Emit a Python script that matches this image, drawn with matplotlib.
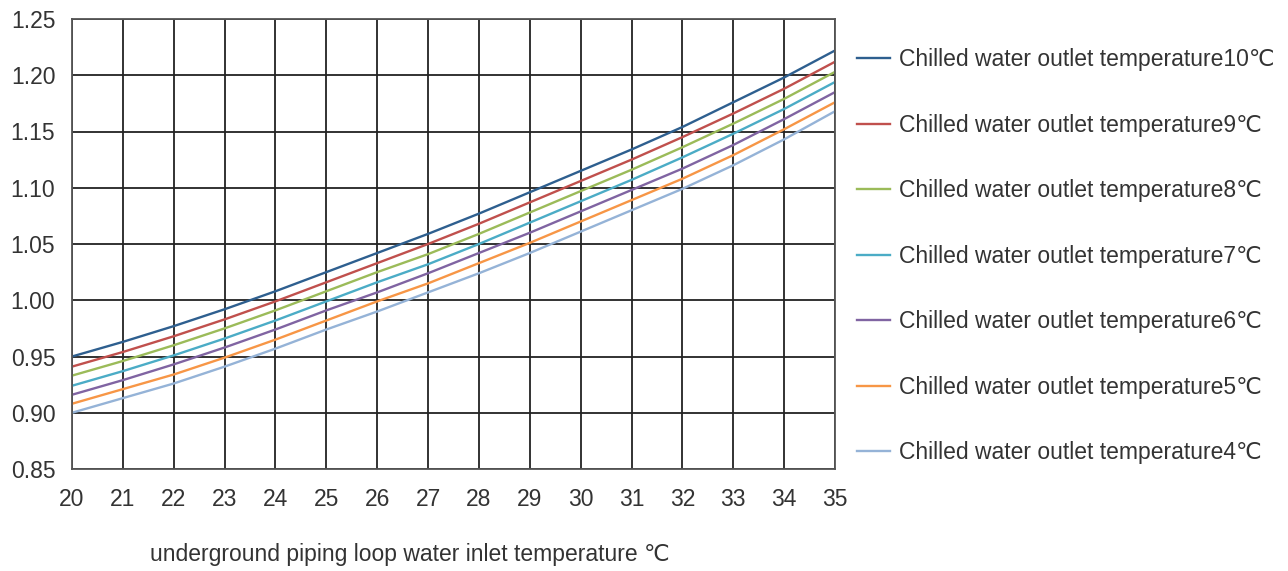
import numpy as np
import matplotlib
matplotlib.use("Agg")
import matplotlib.pyplot as plt

plt.rcParams['font.family'] = ['Liberation Sans', 'DejaVu Sans']

inlet_temp = list(range(20, 36))

outlet_labels = ["10", "9", "8", "7", "6", "5", "4"]
colors = ["#2e5f8f", "#c0504d", "#9bbb59", "#4bacc6", "#8064a2", "#f79646", "#95b3d7"]

t10 = [0.950, 0.963, 0.977, 0.992, 1.008, 1.025, 1.042, 1.059, 1.077, 1.096, 1.115, 1.134, 1.154, 1.176, 1.198, 1.222]
t9 = [0.941, 0.954, 0.968, 0.983, 0.999, 1.016, 1.033, 1.050, 1.068, 1.087, 1.106, 1.125, 1.145, 1.166, 1.188, 1.212]
t8 = [0.933, 0.946, 0.960, 0.975, 0.991, 1.008, 1.025, 1.041, 1.059, 1.078, 1.097, 1.116, 1.136, 1.157, 1.179, 1.203]
t7 = [0.924, 0.937, 0.951, 0.966, 0.982, 0.999, 1.016, 1.032, 1.050, 1.069, 1.088, 1.107, 1.127, 1.148, 1.170, 1.194]
t6 = [0.916, 0.929, 0.943, 0.958, 0.974, 0.991, 1.007, 1.024, 1.042, 1.060, 1.079, 1.098, 1.117, 1.138, 1.161, 1.185]
t5 = [0.908, 0.921, 0.934, 0.949, 0.965, 0.982, 0.999, 1.015, 1.033, 1.051, 1.070, 1.089, 1.108, 1.129, 1.152, 1.176]
t4 = [0.900, 0.913, 0.926, 0.941, 0.957, 0.974, 0.990, 1.007, 1.024, 1.042, 1.061, 1.080, 1.099, 1.120, 1.143, 1.168]
series = [t10, t9, t8, t7, t6, t5, t4]

yticks = [0.85, 0.90, 0.95, 1.00, 1.05, 1.10, 1.15, 1.20, 1.25]

fs = 16.5

fig = plt.figure(figsize=(12.88, 5.71), dpi=100)
ax = fig.add_axes([72/1288, 1 - 469/571, (835-72)/1288, (469-19)/571])

for vals, lab, c in zip(series, outlet_labels, colors):
    ax.plot(inlet_temp, vals, color=c, lw=1.7,
            label="Chilled water outlet temperature" + lab + "\u2103")

ax.set_xlim(20, 35)
ax.set_ylim(0.85, 1.25)
ax.set_xticks(inlet_temp)
ax.set_yticks(yticks)
ax.set_yticklabels(["%.2f" % v for v in yticks])
ax.grid(True, color="#222222", lw=1.3)
ax.set_axisbelow(True)
for s in ax.spines.values():
    s.set_color("#555555")
    s.set_linewidth(1.3)
ax.tick_params(length=0, labelsize=fs, colors="#333333")
ax.tick_params(axis="x", pad=14)
ax.tick_params(axis="y", pad=12)

fig.legend(loc="upper left", bbox_to_anchor=(848/1288, 1 - 39/571),
           frameon=False, fontsize=fs, labelspacing=1.855, handlelength=1.44,
           handletextpad=0.4, labelcolor="#333333", borderaxespad=0)

fig.text(150/1288, 1 - 555/571, "underground piping loop water inlet temperature \u2103",
         fontsize=fs, color="#333333", ha="left", va="center")

fig.savefig("out.png", dpi=100)
